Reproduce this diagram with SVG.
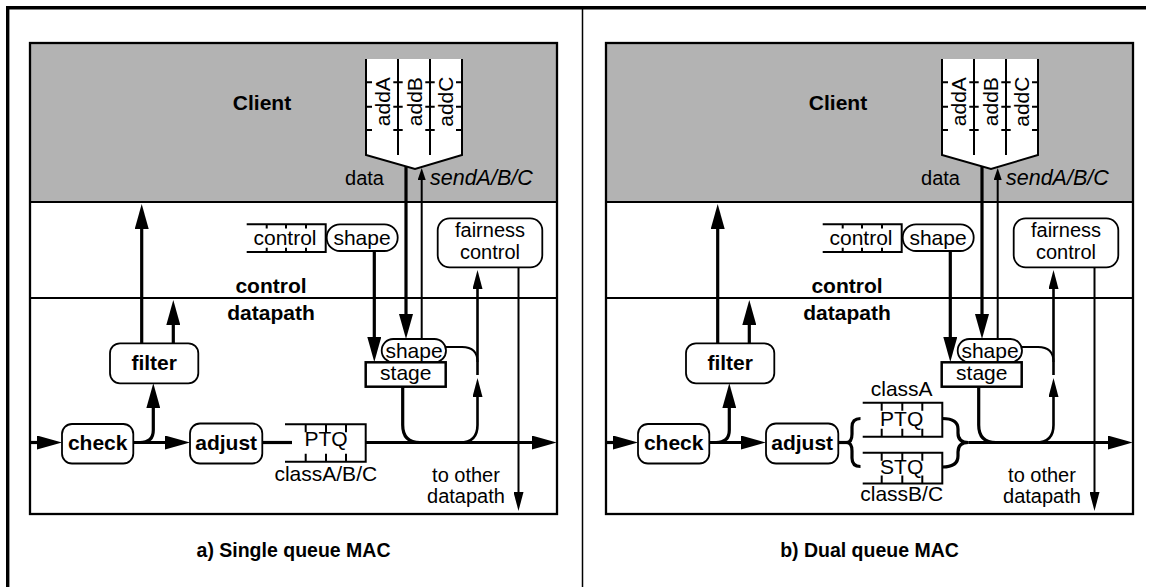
<svg xmlns="http://www.w3.org/2000/svg" width="1151" height="587" viewBox="0 0 1151 587">
<style>
text{font-family:"Liberation Sans",Arial,sans-serif;font-size:21px;fill:#000}
.b{font-weight:bold}
.m{text-anchor:middle}
.s2{font-size:20px}
.ln{fill:none;stroke:#000}
.thk{fill:none;stroke:#000;stroke-width:3.2}
.thn{fill:none;stroke:#000;stroke-width:2}
.rb{fill:#fff;stroke:#000;stroke-width:1.8}
.q{fill:none;stroke:#000;stroke-width:2}
</style>
<defs>
<marker id="ab" markerUnits="userSpaceOnUse" markerWidth="25" markerHeight="14" viewBox="0 0 25 14" refX="17" refY="7" orient="auto"><path d="M0,0L25,7L0,14z"/></marker>
<marker id="am" markerUnits="userSpaceOnUse" markerWidth="19" markerHeight="10" viewBox="0 0 19 10" refX="11" refY="5" orient="auto"><path d="M0,0L19,5L0,10z"/></marker>
<marker id="as" markerUnits="userSpaceOnUse" markerWidth="12" markerHeight="8" viewBox="0 0 12 8" refX="6" refY="4" orient="auto"><path d="M0,0L12,4L0,8z"/></marker>
<g id="panelBase">
<rect x="30" y="43" width="527" height="471" fill="#fff"/>
<rect x="30" y="43" width="527" height="159" fill="#b3b3b3"/>
<path class="ln" stroke-width="2" d="M30,202H557M30,298H557"/>
<rect x="30" y="43" width="527" height="471" fill="none" stroke="#000" stroke-width="2.3"/>
</g>
</defs>
<g id="frame">
<path class="ln" stroke-width="3.4" d="M6,7.7H1146M7.7,6V587"/>
<path class="ln" stroke-width="1.5" d="M582.5,9V587"/>
</g>

<!-- ============ Panel a ============ -->
<g id="panel-a">
<use href="#panelBase"/>
<g id="a-client"><text class="b m" x="262" y="110">Client</text></g>
<g id="a-buffer">
<polygon points="366,59 366,155 415,169 462,155 462,59" fill="#fff"/>
<path class="q" d="M366,59V155L415,169L462,155V59M398,59V155M430,59V155"/>
<path class="q" d="M366,82.3h6M393.3,82.3h9.4M425.3,82.3h9.4M456,82.3h6M366,106.7h6M393.3,106.7h9.4M425.3,106.7h9.4M456,106.7h6M366,130h6M393.3,130h9.4M425.3,130h9.4M456,130h6"/>
<text class="m" transform="translate(389.5,101.7) rotate(-90)">addA</text>
<text class="m" transform="translate(421.5,101.7) rotate(-90)">addB</text>
<text class="m" transform="translate(453,101.7) rotate(-90)">addC</text>
</g>
<text class="s2" style="text-anchor:end" x="384" y="185">data</text>
<text style="font-style:italic;font-size:21.5px" x="430" y="185">sendA/B/C</text>
<g id="a-ctlq">
<path class="q" d="M246.7,224.3H325.7V252H246.7M266.7,224.3v4.2M286,224.3v4.2M306,224.3v4.2M266.7,252v-4.2M286,252v-4.2M306,252v-4.2"/>
<text class="m" x="285" y="245">control</text>
</g>
<g id="a-shape1"><rect class="rb" x="326.7" y="224.3" width="71" height="26.7" rx="13.3"/><text class="m" x="362" y="245">shape</text></g>
<text class="b m" x="271" y="293">control</text>
<text class="b m" x="271" y="320">datapath</text>
<g id="a-fair"><rect class="rb" x="437.7" y="218.3" width="104.6" height="49" rx="12"/><text class="m s2" x="490" y="237">fairness</text><text class="m s2" x="490" y="259">control</text></g>
<g id="a-stage">
<rect class="rb" x="381.7" y="339" width="64.3" height="23.3" rx="11.5"/><text class="m" x="414" y="358">shape</text>
<rect x="365.7" y="362.3" width="80" height="24.4" fill="#fff" stroke="#000" stroke-width="2.5"/><text class="m" x="405.8" y="380">stage</text>
</g>
<g id="a-filter"><rect class="rb" x="110" y="343.3" width="88.3" height="40" rx="10"/><text class="b m" x="154.2" y="370">filter</text></g>
<g id="a-check"><rect class="rb" x="62" y="424" width="71.3" height="39.5" rx="10"/><text class="b m" x="97.7" y="449.5">check</text></g>
<g id="a-adjust"><rect class="rb" x="190" y="423.5" width="72.3" height="40" rx="10"/><text class="b m" x="226.2" y="449.5">adjust</text></g>
<g id="a-ptq">
<path class="q" d="M285,424.3H365.7V461.7H285M305.7,424.3v8M326,424.3v8M346,424.3v8M305.7,461.7v-8M326,461.7v-8M346,461.7v-8"/>
<text class="m" x="326" y="446">PTQ</text>
<text class="m" x="325.8" y="481">classA/B/C</text>
</g>
<text class="m s2" x="466" y="482">to other</text>
<text class="m s2" x="466" y="503">datapath</text>
<g id="a-connectors">
<path class="thk" marker-end="url(#ab)" d="M30,442.5H54"/>
<path class="thk" marker-end="url(#ab)" d="M133.3,442.5H182"/>
<path class="thk" marker-end="url(#ab)" d="M140,442.5Q153.3,442.5 153.3,430V391.3"/>
<path class="thk" marker-end="url(#ab)" d="M141.7,343.3V212"/>
<path class="thk" marker-end="url(#ab)" d="M173.3,343.3V308"/>
<path class="thk" d="M262.3,442.5H292"/>
<path class="thk" marker-end="url(#ab)" d="M365.7,442.5H548.7"/>
<path class="thk" marker-end="url(#ab)" d="M406,166.5V331"/>
<path class="thn" marker-end="url(#as)" d="M421.7,339V174"/>
<path class="thk" marker-end="url(#ab)" d="M374.3,251V354"/>
<path class="thk" d="M402.7,386.7V425Q402.7,442.5 420,442.5"/>
<path class="thk" marker-end="url(#am)" style="stroke-width:2.6" d="M460,442.5Q477.5,442.5 477.5,425V386"/>
<path class="thk" marker-end="url(#am)" style="stroke-width:2.6" d="M477.5,375V278"/>
<path class="thn" d="M446,347H462Q477.5,347 477.5,362"/>
<path class="thn" marker-end="url(#am)" d="M518.5,267.3V503"/>
</g>
<text class="b m" x="293.5" y="557" style="font-size:19.5px">a) Single queue MAC</text>
</g>

<!-- ============ Panel b ============ -->
<g id="panel-b" transform="translate(576,0)">
<use href="#panelBase"/>
<g id="b-client"><text class="b m" x="262" y="110">Client</text></g>
<g id="b-buffer">
<polygon points="366,59 366,155 415,169 462,155 462,59" fill="#fff"/>
<path class="q" d="M366,59V155L415,169L462,155V59M398,59V155M430,59V155"/>
<path class="q" d="M366,82.3h6M393.3,82.3h9.4M425.3,82.3h9.4M456,82.3h6M366,106.7h6M393.3,106.7h9.4M425.3,106.7h9.4M456,106.7h6M366,130h6M393.3,130h9.4M425.3,130h9.4M456,130h6"/>
<text class="m" transform="translate(389.5,101.7) rotate(-90)">addA</text>
<text class="m" transform="translate(421.5,101.7) rotate(-90)">addB</text>
<text class="m" transform="translate(453,101.7) rotate(-90)">addC</text>
</g>
<text class="s2" style="text-anchor:end" x="384" y="185">data</text>
<text style="font-style:italic;font-size:21.5px" x="430" y="185">sendA/B/C</text>
<g id="b-ctlq">
<path class="q" d="M246.7,224.3H325.7V252H246.7M266.7,224.3v4.2M286,224.3v4.2M306,224.3v4.2M266.7,252v-4.2M286,252v-4.2M306,252v-4.2"/>
<text class="m" x="285" y="245">control</text>
</g>
<g id="b-shape1"><rect class="rb" x="326.7" y="224.3" width="71" height="26.7" rx="13.3"/><text class="m" x="362" y="245">shape</text></g>
<text class="b m" x="271" y="293">control</text>
<text class="b m" x="271" y="320">datapath</text>
<g id="b-fair"><rect class="rb" x="437.7" y="218.3" width="104.6" height="49" rx="12"/><text class="m s2" x="490" y="237">fairness</text><text class="m s2" x="490" y="259">control</text></g>
<g id="b-stage">
<rect class="rb" x="381.7" y="339" width="64.3" height="23.3" rx="11.5"/><text class="m" x="414" y="358">shape</text>
<rect x="365.7" y="362.3" width="80" height="24.4" fill="#fff" stroke="#000" stroke-width="2.5"/><text class="m" x="405.8" y="380">stage</text>
</g>
<g id="b-filter"><rect class="rb" x="110" y="343.3" width="88.3" height="40" rx="10"/><text class="b m" x="154.2" y="370">filter</text></g>
<g id="b-check"><rect class="rb" x="62" y="424" width="71.3" height="39.5" rx="10"/><text class="b m" x="97.7" y="449.5">check</text></g>
<g id="b-adjust"><rect class="rb" x="190" y="423.5" width="72.3" height="40" rx="10"/><text class="b m" x="226.2" y="449.5">adjust</text></g>
<g id="b-ptq">
<text class="m" x="325.7" y="396">classA</text>
<path class="q" d="M286.7,402.7H366.3V436.7H286.7M305.7,402.7v8M326.3,402.7v8M346.3,402.7v8M305.7,436.7v-8M326.3,436.7v-8M346.3,436.7v-8"/>
<text class="m" x="325.7" y="425.5">PTQ</text>
</g>
<g id="b-stq">
<path class="q" d="M286.7,452.7H366.3V483.5H286.7M305.7,452.7v8M326.3,452.7v8M346.3,452.7v8M305.7,483.5v-8M326.3,483.5v-8M346.3,483.5v-8"/>
<text class="m" x="325.7" y="474">STQ</text>
<text class="m" x="325.7" y="501">classB/C</text>
</g>
<text class="m s2" x="466" y="482">to other</text>
<text class="m s2" x="466" y="503">datapath</text>
<g id="b-connectors">
<path class="thk" marker-end="url(#ab)" d="M30,442.5H54"/>
<path class="thk" marker-end="url(#ab)" d="M133.3,442.5H182"/>
<path class="thk" marker-end="url(#ab)" d="M140,442.5Q153.3,442.5 153.3,430V391.3"/>
<path class="thk" marker-end="url(#ab)" d="M141.7,343.3V212"/>
<path class="thk" marker-end="url(#ab)" d="M173.3,343.3V308"/>
<path class="thk" d="M262.3,442.5H271"/>
<path class="thk" d="M284.5,418.5Q276,418.5 276,427V434Q276,442.5 270.5,442.5Q276,442.5 276,451V458Q276,466.5 284.5,466.5"/>
<path class="thk" d="M366.3,418.5Q382,418.5 382,429V433Q382,442.5 392.3,442.5Q382,442.5 382,452V456Q382,467 366.3,467"/>
<path class="thk" marker-end="url(#ab)" d="M392.3,442.5H548.7"/>
<path class="thk" marker-end="url(#ab)" d="M406,166.5V331"/>
<path class="thn" marker-end="url(#as)" d="M421.7,339V174"/>
<path class="thk" marker-end="url(#ab)" d="M374.3,251V354"/>
<path class="thk" d="M402.7,386.7V425Q402.7,442.5 420,442.5"/>
<path class="thk" marker-end="url(#am)" style="stroke-width:2.6" d="M460,442.5Q477.5,442.5 477.5,425V386"/>
<path class="thk" marker-end="url(#am)" style="stroke-width:2.6" d="M477.5,375V278"/>
<path class="thn" d="M446,347H462Q477.5,347 477.5,362"/>
<path class="thn" marker-end="url(#am)" d="M518.5,267.3V503"/>
</g>
<text class="b m" x="293.5" y="557" style="font-size:19.5px">b) Dual queue MAC</text>
</g>
</svg>
